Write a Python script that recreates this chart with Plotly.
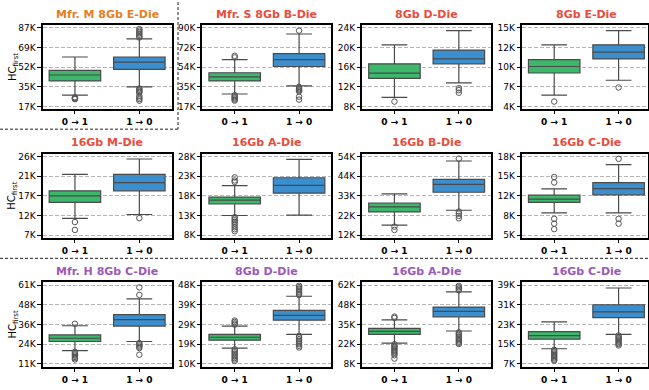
import numpy as np
import plotly.graph_objects as go

W, H = 649, 390

titles = ["Mfr. M 8Gb E-Die", "Mfr. S 8Gb B-Die", "8Gb D-Die", "8Gb E-Die",
          "16Gb M-Die", "16Gb A-Die", "16Gb B-Die", "16Gb C-Die",
          "Mfr. H 8Gb C-Die", "8Gb D-Die", "16Gb A-Die", "16Gb C-Die"]
title_colors = ["#e67e22", "#e74c3c", "#e74c3c", "#e74c3c",
                "#e74c3c", "#e74c3c", "#e74c3c", "#e74c3c",
                "#9b59b6", "#9b59b6", "#9b59b6", "#9b59b6"]
categories = ["0 → 1", "1 → 0"]

# y tick labels (thousands), bottom -> top
ytick_labels = [[17, 35, 52, 69, 87], [17, 35, 54, 72, 90], [8, 12, 16, 20, 24], [4, 7, 10, 12, 15],
                [7, 12, 17, 21, 26], [8, 13, 18, 23, 28], [12, 22, 33, 44, 54], [5, 8, 12, 15, 18],
                [11, 24, 36, 48, 61], [10, 19, 29, 39, 48], [8, 22, 35, 48, 62], [7, 15, 23, 31, 39]]

# box statistics (thousands) for "0 -> 1" (green)
green_q1 = [39.7, 40.7, 13.73, 8.68, 14.92, 15.92, 24.4, 10.42, 25.17, 21.4, 28.25, 17.0]
green_med = [45.0, 44.4, 14.8, 9.59, 16.5, 16.92, 27.05, 10.96, 27.25, 22.83, 30.3, 18.47]
green_q3 = [49.1, 48.3, 16.67, 10.55, 17.69, 17.67, 29.15, 11.61, 29.33, 24.25, 32.3, 20.07]
green_lo = [27.2, 28.6, 9.87, 5.6, 11.04, 13.0, 17.4, 8.68, 19.33, 17.6, 22.2, 13.13]
green_hi = [61.0, 60.5, 20.5, 12.62, 21.65, 20.58, 34.05, 12.64, 35.17, 28.2, 38.15, 24.07]
green_out = [
    [25.2, 24.6, 24.0, 23.5],
    [64.0, 62.5, 27.5, 26.5, 25.5, 24.5, 23.5, 22.5],
    [9.0],
    [4.69],
    [10.17, 8.27],
    [22.67, 21.9, 21.5, 12.6, 12.2, 11.8, 11.4, 11.0, 10.5, 10.0, 9.5, 9.0],
    [16.55, 14.8],
    [14.6, 13.7, 7.7, 6.9, 6.0],
    [36.4, 18.6, 17.8, 17.0, 16.2, 15.4, 14.6, 13.8],
    [30.9, 30.2, 29.5, 28.9, 17.0, 16.3, 15.6, 14.9, 14.2, 13.5, 12.8, 12.1, 11.4],
    [40.4, 39.5, 21.4, 20.5, 19.6, 18.7, 17.8, 16.9, 16.0, 15.1, 13.9, 11.6],
    [12.7, 12.2, 11.7, 11.2, 10.7, 10.2, 9.7, 9.2, 8.7, 8.3],
]

# box statistics (thousands) for "1 -> 0" (blue)
blue_q1 = [50.0, 54.1, 16.67, 10.65, 17.69, 18.67, 34.9, 11.66, 34.96, 31.06, 40.2, 25.8]
blue_med = [56.4, 60.5, 17.67, 11.6, 19.67, 20.67, 39.1, 12.69, 39.1, 33.4, 44.0, 28.07]
blue_q3 = [61.0, 66.0, 19.47, 12.62, 21.65, 22.58, 41.75, 13.67, 42.25, 35.8, 46.9, 31.0]
blue_lo = [34.5, 36.2, 12.8, 7.67, 11.99, 13.08, 25.3, 8.68, 25.17, 24.25, 30.5, 19.0]
blue_hi = [77.1, 84.2, 23.4, 14.59, 25.37, 27.25, 51.55, 16.65, 52.25, 42.6, 57.3, 37.8]
blue_out = [
    [78.3, 79.5, 80.8, 82.0, 83.3, 84.5, 85.8, 33.0, 32.0, 31.0, 30.0, 29.3, 26.5, 25.0, 23.6, 22.2],
    [87.3, 35.2, 34.0, 33.0, 32.0, 31.0, 26.1, 23.4],
    [11.73, 11.33, 10.8],
    [6.66],
    [11.12],
    [],
    [52.8, 24.6, 23.5, 22.3, 21.0],
    [17.6, 7.7, 6.9],
    [59.5, 54.75, 24.2, 23.4, 22.6, 21.8, 21.0, 16.8],
    [47.7, 47.0, 46.2, 45.4, 44.6, 43.9, 43.2, 23.5, 22.7, 21.9, 21.1, 20.3, 19.5, 18.7, 17.9],
    [61.5, 60.5, 59.5, 58.5, 29.6, 28.7, 27.8, 26.9, 26.0, 25.1, 24.2, 23.3, 22.4, 21.6],
    [18.5, 18.0, 17.5, 17.0, 16.5, 16.0, 15.5, 15.0, 14.5],
]

GREEN = "#3db76b"
BLUE = "#3c8fcf"
EDGE = "#4a4a4a"
FONT = "DejaVu Sans"

col_x0 = [42.8, 202.8, 362.8, 522.8]
panel_w = 129.0
row_y0 = [23.3, 153.3, 283.3]
panel_h = 85.0

fig = go.Figure()
layout = dict(width=W, height=H, margin=dict(l=0, r=0, t=0, b=0),
              paper_bgcolor="white", plot_bgcolor="white", showlegend=False,
              annotations=[], shapes=[])

for i in range(12):
    r, c = divmod(i, 4)
    xa = "x" if i == 0 else f"x{i+1}"
    ya = "y" if i == 0 else f"y{i+1}"
    x0 = col_x0[c]
    x1 = x0 + panel_w
    xr = [-0.5, 1.5]
    if x1 > W - 0.5:
        xr = [-0.5, -0.5 + 2.0 * (W - 0.5 - x0) / panel_w]
        x1 = W - 0.5
    y0 = row_y0[r]
    y1 = y0 + panel_h
    labels = ytick_labels[i]
    tv = list(np.linspace(labels[0], labels[-1], 5))
    pad = (labels[-1] - labels[0]) * 0.034

    for k, (col, q1, md, q3, lo, hi, outs) in enumerate([
        (GREEN, green_q1[i], green_med[i], green_q3[i], green_lo[i], green_hi[i], green_out[i]),
        (BLUE, blue_q1[i], blue_med[i], blue_q3[i], blue_lo[i], blue_hi[i], blue_out[i])]):
        fig.add_trace(go.Box(x=[k], q1=[q1], median=[md], q3=[q3], lowerfence=[lo], upperfence=[hi],
                             width=0.8, whiskerwidth=0.5, boxpoints=False, fillcolor=col,
                             line=dict(color=EDGE, width=1.2), xaxis=xa, yaxis=ya, hoverinfo="skip"))
        if outs:
            fig.add_trace(go.Scatter(x=[k] * len(outs), y=outs, mode="markers",
                                     marker=dict(symbol="circle-open", size=5.5, color="#555555",
                                                 line=dict(width=1, color="#555555")),
                                     xaxis=xa, yaxis=ya, hoverinfo="skip"))

    layout["xaxis" if i == 0 else f"xaxis{i+1}"] = dict(
        domain=[x0 / W, x1 / W], range=xr, anchor=ya,
        tickvals=[0, 1], ticktext=[f"<b>{t}</b>" for t in categories],
        tickfont=dict(family=FONT, size=9, color="black"),
        showline=True, mirror=True, linecolor="black", linewidth=1.6,
        ticks="outside", ticklen=3.5, tickwidth=1, tickcolor="black",
        showgrid=False, zeroline=False)
    layout["yaxis" if i == 0 else f"yaxis{i+1}"] = dict(
        domain=[1 - y1 / H, 1 - y0 / H], range=[labels[0] - pad, labels[-1] + pad], anchor=xa,
        tickvals=tv, ticktext=[f"{v}K" for v in labels],
        tickfont=dict(family=FONT, size=9, color="black"),
        showline=True, mirror=True, linecolor="black", linewidth=1.6,
        ticks="outside", ticklen=3.5, tickwidth=1, tickcolor="black",
        showgrid=True, gridcolor="#b5b5b5", griddash="4px,2px", gridwidth=0.8, zeroline=False)

    layout["annotations"].append(dict(
        x=(col_x0[c] + panel_w / 2) / W, y=1 - (y0 - 11) / H, xref="paper", yref="paper",
        text=f"<b>{titles[i]}</b>", showarrow=False, xanchor="center", yanchor="middle",
        font=dict(family=FONT, size=11, color=title_colors[i])))
    if c == 0:
        layout["annotations"].append(dict(
            x=13 / W, y=1 - (y0 + panel_h / 2) / H, xref="paper", yref="paper",
            text="HC<sub>first</sub>", showarrow=False, textangle=-90,
            xanchor="center", yanchor="middle",
            font=dict(family=FONT, size=10, color="black")))

sep = dict(color="#222222", width=1, dash="3px,2px")
layout["shapes"] = [
    dict(type="line", xref="paper", yref="paper", x0=178.3 / W, x1=178.3 / W, y0=1, y1=1 - 128.5 / H, line=sep),
    dict(type="line", xref="paper", yref="paper", x0=0, x1=178.3 / W, y0=1 - 128.5 / H, y1=1 - 128.5 / H, line=sep),
    dict(type="line", xref="paper", yref="paper", x0=0, x1=1, y0=1 - 259 / H, y1=1 - 259 / H, line=sep),
]

fig.update_layout(**layout)
fig.write_html("out.html")
